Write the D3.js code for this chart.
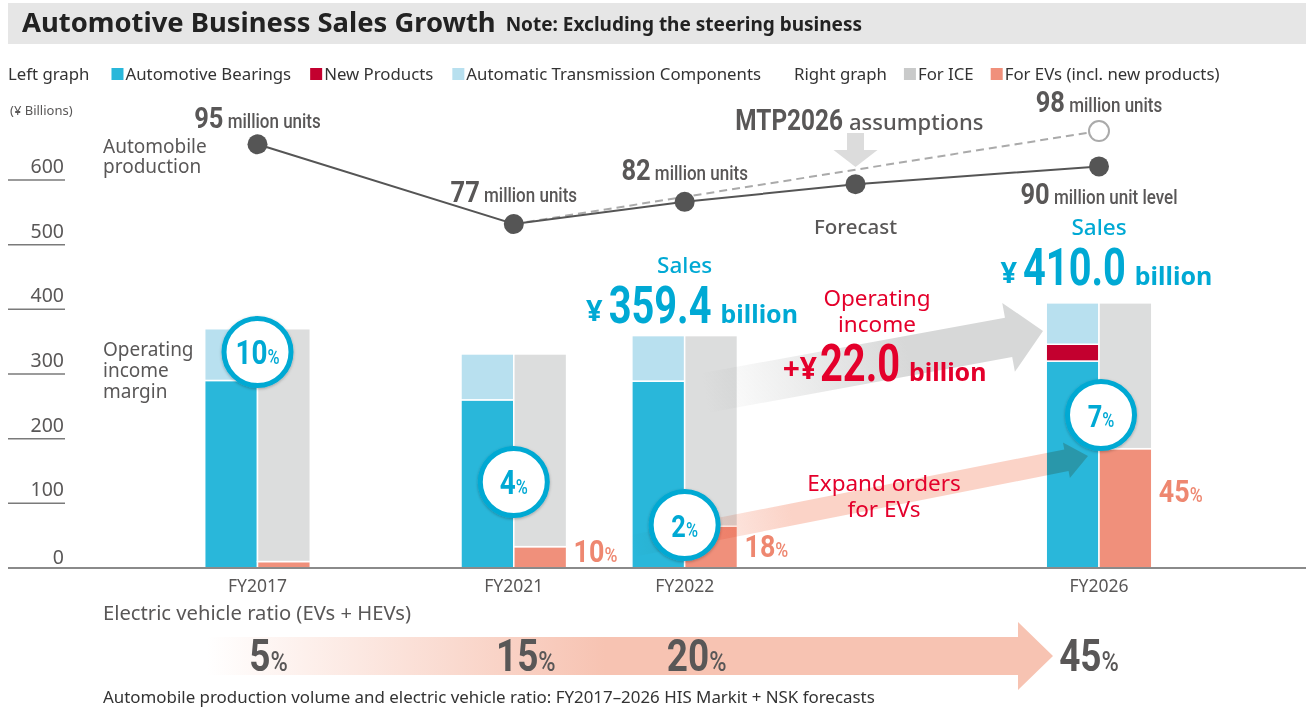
<!DOCTYPE html>
<html>
<head>
<meta charset="utf-8">
<script src="https://cdn.jsdelivr.net/npm/d3@7"></script>
<style>
  body { margin: 0; background: #fff; }
  svg { display: block; font-family: "Noto Sans", "Open Sans", sans-serif; }
</style>
</head>
<body>
<svg id="chart" width="1306" height="713"></svg>
<script>
// ---- Sales by period (¥ billions) ----
const categories   = ["FY2017", "FY2021", "FY2022", "FY2026"];
const bearings     = [290, 260, 289, 320];
const newProducts  = [0, 0, 0, 26];
const transmission = [80, 71, 70.4, 64];
const forICE       = [360, 298, 294.7, 225.5];
const forEVs       = [10, 33, 64.7, 184.5];
const salesTotals  = [null, null, "359.4", "410.0"];
const marginPct    = [10, 4, 2, 7];
const evSharePct   = [null, 10, 18, 45];
const yTicks       = [0, 100, 200, 300, 400, 500, 600];

// ---- Automobile production (million units) ----
const prodPeriods    = ["FY2017", "FY2021", "FY2022", "Forecast", "FY2026"];
const production     = [95, 77, 82, 86, 90];
const mtpPeriods     = ["FY2021", "FY2026"];
const mtpProduction  = [77, 98];

// ---- Electric vehicle ratio (EVs + HEVs, %) ----
const evRatioPeriods = ["FY2017", "FY2021", "FY2022", "FY2026"];
const evRatio        = [5, 15, 20, 45];

const C = {
  bearings: "#29b7da", newProducts: "#c3002f", transmission: "#b8e0ef",
  ice: "#dcdddd", ev: "#f0907b",
  text: "#595757", dark: "#222", cyan: "#00a9d4", red: "#e4002b", salmon: "#ee8770",
  ring: "#00a9d3"
};

const svg = d3.select("#chart");
const W = 1306;
const defs = svg.append("defs");

// soft shadow for the margin badges
const sh = defs.append("filter").attr("id", "ringShadow").attr("x", "-30%").attr("y", "-30%").attr("width", "160%").attr("height", "160%");
sh.append("feDropShadow").attr("dx", 0).attr("dy", 1).attr("stdDeviation", 1.6).attr("flood-color", "#000").attr("flood-opacity", 0.28);

function grad(id, color, fadeEnd) {
  const g = defs.append("linearGradient").attr("id", id).attr("x1", 0).attr("x2", 1).attr("y1", 0).attr("y2", 0);
  g.append("stop").attr("offset", 0).attr("stop-color", color).attr("stop-opacity", 0);
  g.append("stop").attr("offset", fadeEnd).attr("stop-color", color).attr("stop-opacity", 1);
  g.append("stop").attr("offset", 1).attr("stop-color", color).attr("stop-opacity", 1);
}
grad("grayArrow", "#d7d8d8", 0.6);
grad("pinkArrow", "#fbd3c7", 0.35);
grad("ratioArrow", "#f7c3b2", 0.47);

// condensed numeric text (bold digits, narrower)
function cond(parent, x, y, parts, o = {}) {
  const t = parent.append("text")
    .attr("transform", `translate(${x},${y}) scale(${o.sx ?? 0.8},1)`)
    .attr("text-anchor", o.anchor || "start")
    .attr("fill", o.fill || C.text)
    .style("font-family", "Roboto, 'Liberation Sans', sans-serif");
  parts.forEach(p => t.append("tspan").attr("font-size", p.s).attr("font-weight", p.w || 700).text(p.t));
  t.scaledWidth = () => t.node().getComputedTextLength() * (o.sx ?? 0.8);
  return t;
}
function txt(parent, x, y, s, size, o = {}) {
  return parent.append("text").attr("x", x).attr("y", y)
    .attr("font-size", size).attr("font-weight", o.w || 400)
    .attr("fill", o.fill || C.text).attr("text-anchor", o.anchor || "start")
    .text(s);
}
// several lines in one text element
function lines(parent, x, y, arr, size, lh, o = {}) {
  const t = parent.append("text").attr("x", x).attr("y", y)
    .attr("font-size", size).attr("font-weight", o.w || 400)
    .attr("fill", o.fill || C.text).attr("text-anchor", o.anchor || "start");
  arr.forEach((s, i) => t.append("tspan").attr("x", x).attr("dy", i ? lh : 0).text(s));
  return t;
}
function arrow(parent, x0, y0, x1, y1, bandHW, headL, headHW, fill, blend) {
  const ang = Math.atan2(y1 - y0, x1 - x0) * 180 / Math.PI;
  const L = Math.hypot(x1 - x0, y1 - y0);
  const g = parent.append("g").attr("transform", `translate(${x0},${y0}) rotate(${ang})`);
  g.append("path")
    .attr("d", `M0,${-bandHW}L${L - headL},${-bandHW}L${L - headL},${-headHW}L${L},0L${L - headL},${headHW}L${L - headL},${bandHW}L0,${bandHW}Z`)
    .attr("fill", fill)
    .style("mix-blend-mode", blend || "normal");
}

// ---- Scales ----
// horizontal slots: the period axis is compressed between FY2017 and FY2021
const slot = { FY2017: 0, FY2021: 3, FY2022: 5, Forecast: 7, FY2026: 9.85 };
const x = d3.scaleLinear().domain([0, 9.85]).range([257.5, 1099]);
const xAt = p => x(slot[p]);
const y = d3.scaleLinear().domain([0, 600]).range([568, 180]);
const yProd = d3.scaleLinear().domain([77, 95]).range([224, 144.3]);
const barW = 52.8;

// ---- Title bar ----
svg.append("rect").attr("x", 8).attr("y", 3).attr("width", W - 8).attr("height", 41).attr("fill", "#e6e6e6");
const title = txt(svg, 22, 32, "Automotive Business Sales Growth", 27.4, { w: 700, fill: C.dark });
const tEnd = 22 + title.node().getComputedTextLength();
txt(svg, tEnd + 10, 31, "Note: Excluding the steering business", 19, { w: 700, fill: C.dark });

// ---- Legend ----
(function legend() {
  const ly = 80, fs = 16.8;
  let cx = 8;
  const plain = (s, gap) => {
    const t = txt(svg, cx, ly, s, fs, { fill: "#333" });
    cx += t.node().getComputedTextLength() + gap;
  };
  const item = (s, color, gap) => {
    svg.append("rect").attr("x", cx).attr("y", ly - 12).attr("width", 12).attr("height", 12).attr("fill", color);
    const t = txt(svg, cx + 14, ly, s, fs, { fill: "#333" });
    cx += 14 + t.node().getComputedTextLength() + gap;
  };
  plain("Left graph", 22);
  item("Automotive Bearings", C.bearings, 19);
  item("New Products", C.newProducts, 19);
  item("Automatic Transmission Components", C.transmission, 33);
  plain("Right graph", 17);
  item("For ICE", "#c9caca", 17);
  item("For EVs (incl. new products)", C.ev, 0);
})();

// ---- Y axis ----
txt(svg, 10, 115, "(¥ Billions)", 13);
yTicks.forEach(v => {
  if (v > 0) {
    svg.append("line").attr("x1", 8).attr("x2", 65).attr("y1", y(v)).attr("y2", y(v))
      .attr("stroke", "#7a7a7a").attr("stroke-width", 1.5);
  }
  txt(svg, 64, y(v) - (v > 0 ? 7 : 4), d3.format("d")(v), 19.5, { anchor: "end" });
});

// ---- Stacked bars ----
const rows = categories.map((c, i) => ({
  cat: c, bearings: bearings[i], newProducts: newProducts[i], transmission: transmission[i],
  ev: forEVs[i], ice: forICE[i]
}));
const leftStack = d3.stack().keys(["bearings", "newProducts", "transmission"])(rows);
const rightStack = d3.stack().keys(["ev", "ice"])(rows);
const barG = svg.append("g");
function drawStack(stack, colors, side) {
  stack.forEach(layer => {
    barG.selectAll(null).data(layer.filter(d => d[1] - d[0] > 0)).join("rect")
      .attr("x", d => xAt(d.data.cat) + (side < 0 ? -barW : 0))
      .attr("width", barW)
      .attr("y", d => y(d[1]))
      .attr("height", d => y(d[0]) - y(d[1]))
      .attr("fill", colors[layer.key])
      .attr("stroke", "#fff").attr("stroke-width", 1.5);
  });
}
drawStack(leftStack, { bearings: C.bearings, newProducts: C.newProducts, transmission: C.transmission }, -1);
drawStack(rightStack, { ev: C.ev, ice: C.ice }, 1);

// baseline
svg.append("line").attr("x1", 8).attr("x2", W).attr("y1", y(0)).attr("y2", y(0))
  .attr("stroke", "#8a8a8a").attr("stroke-width", 2);

// category labels
categories.forEach(c => txt(svg, xAt(c), 592, c, 17.5, { anchor: "middle" }));

// ---- Growth arrows ----
const arrowG = svg.append("g");
arrow(arrowG, 705, 393, 1043, 331, 20, 35, 35, "url(#grayArrow)", "multiply");
arrow(arrowG, 632, 546, 1088, 456, 11, 22, 18, "url(#pinkArrow)", "multiply");

// ---- Operating income margin badges ----
const badgeY = [352, 482, 525, 415];
const badgeDX = [0, 0, 0, 2];
categories.forEach((c, i) => {
  const cx = xAt(c) + badgeDX[i], cy = badgeY[i];
  svg.append("circle").attr("cx", cx).attr("cy", cy).attr("r", 33.5)
    .attr("fill", "#fff").attr("stroke", C.ring).attr("stroke-width", 5).attr("filter", "url(#ringShadow)");
  cond(svg, cx, cy + 12, [{ t: String(marginPct[i]), s: i < 2 ? 34 : 31 }, { t: "%", s: 20, w: 500 }],
    { anchor: "middle", fill: C.cyan, sx: 0.82 });
});

// ---- EV share of right bars ----
const evLabelY = [null, 562, 557, 502];
categories.forEach((c, i) => {
  if (evSharePct[i] == null) return;
  cond(svg, xAt(c) + barW + 7, evLabelY[i], [{ t: String(evSharePct[i]), s: 32 }, { t: "%", s: 21, w: 500 }],
    { fill: C.salmon, sx: 0.84 });
});

// ---- Sales totals ----
categories.forEach((c, i) => {
  if (!salesTotals[i]) return;
  const cx = xAt(c);
  const total = bearings[i] + newProducts[i] + transmission[i];
  const base = Math.min(y(total) - 13, 323) - (i === 3 ? 5 : 0);
  txt(svg, cx, base - 50, "Sales", 22.5, { w: 500, fill: C.cyan, anchor: "middle" });
  txt(svg, cx - 82, base - 2, "¥", 29, { w: 700, fill: C.cyan, anchor: "end" });
  const num = cond(svg, cx - 76, base, [{ t: salesTotals[i], s: 51 }], { fill: C.cyan, sx: 0.78 });
  txt(svg, cx - 76 + num.scaledWidth() + 9, base, "billion", 25, { w: 700, fill: C.cyan });
});

// ---- Operating income increase ----
lines(svg, 877, 306, ["Operating", "income"], 22.5, 26, { fill: C.red, anchor: "middle" });
txt(svg, 817, 379, "+¥", 30, { w: 700, fill: C.red, anchor: "end" });
const oi = cond(svg, 820, 381, [{ t: "22.0", s: 51 }], { fill: C.red, sx: 0.78 });
txt(svg, 820 + oi.scaledWidth() + 9, 381, "billion", 25, { w: 700, fill: C.red });

lines(svg, 884, 491, ["Expand orders", "for EVs"], 22.5, 26, { fill: C.red, anchor: "middle" });

// ---- Automobile production line ----
lines(svg, 103, 153, ["Automobile", "production"], 19, 20);
lines(svg, 103, 356, ["Operating", "income", "margin"], 19, 21);

const lineG = svg.append("g");
const mtpPts = mtpPeriods.map((p, i) => [xAt(p), yProd(mtpProduction[i])]);
lineG.append("path").attr("d", d3.line()(mtpPts)).attr("fill", "none")
  .attr("stroke", "#aaa").attr("stroke-width", 2).attr("stroke-dasharray", "8,5");
const prodPts = prodPeriods.map((p, i) => [xAt(p), yProd(production[i])]);
lineG.append("path").attr("d", d3.line()(prodPts)).attr("fill", "none")
  .attr("stroke", "#555").attr("stroke-width", 2);
lineG.selectAll(".pt").data(prodPts).join("circle").attr("class", "pt")
  .attr("cx", d => d[0]).attr("cy", d => d[1]).attr("r", 10).attr("fill", "#555");
lineG.append("circle").attr("cx", mtpPts[1][0]).attr("cy", mtpPts[1][1]).attr("r", 10)
  .attr("fill", "#fff").attr("stroke", "#aaa").attr("stroke-width", 2);

// value labels
const prodLabel = (px, py, val, tail) =>
  cond(lineG, px, py, [{ t: String(val), s: 30 }, { t: " " + tail, s: 20, w: 500 }], { anchor: "middle", sx: 0.85 });
prodPeriods.forEach((p, i) => {
  if (p === "Forecast") return;
  const [px, py] = prodPts[i];
  if (p === "FY2026") prodLabel(px, py + 38, production[i], "million unit level");
  else prodLabel(px, py - (i === 0 ? 16 : 22), production[i], "million units");
});
prodLabel(mtpPts[1][0], mtpPts[1][1] - 19, mtpProduction[1], "million units");
txt(lineG, xAt("Forecast"), 234, "Forecast", 20.5, { w: 500, anchor: "middle" });

// MTP2026 assumptions marker
cond(lineG, 843, 130, [{ t: "MTP2026", s: 29 }], { anchor: "end", sx: 0.84 });
txt(lineG, 849, 130, "assumptions", 22, { w: 500 });
const ax = xAt("Forecast");
lineG.append("path")
  .attr("d", `M${ax - 8.5},133L${ax + 8.5},133L${ax + 8.5},150L${ax + 22},150L${ax},167L${ax - 22},150L${ax - 8.5},150Z`)
  .attr("fill", "#dcdcdc");

// ---- Electric vehicle ratio ----
txt(svg, 103, 620, "Electric vehicle ratio (EVs + HEVs)", 20.2);
arrow(svg, 207, 656, 1053, 656, 19, 35, 34, "url(#ratioArrow)");
const ratioDX = [11, 12, 12, -10];
evRatioPeriods.forEach((p, i) => {
  cond(svg, xAt(p) + ratioDX[i], 671, [{ t: String(evRatio[i]), s: 44 }, { t: "%", s: 28, w: 500 }],
    { anchor: "middle", sx: 0.84 });
});

txt(svg, 103, 703, "Automobile production volume and electric vehicle ratio: FY2017–2026 HIS Markit + NSK forecasts", 16.9, { fill: "#333" });
</script>
</body>
</html>
